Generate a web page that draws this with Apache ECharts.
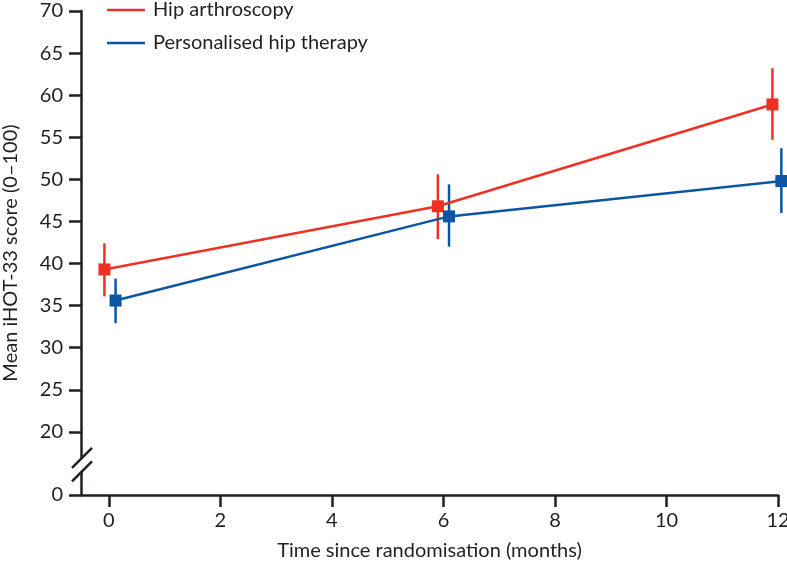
<!DOCTYPE html>
<html>
<head>
<meta charset="utf-8">
<script src="https://cdn.jsdelivr.net/npm/echarts@6/dist/echarts.min.js"></script>
<style>html,body{margin:0;padding:0;background:#fff}#c{width:787px;height:573px}</style>
</head>
<body>
<div id="c"></div>
<script>
// ---- data ----
var seriesNames = ['Hip arthroscopy', 'Personalised hip therapy'];
var arthroX = [-0.08, 5.9, 11.9];
var arthroMean = [39.3, 46.8, 58.9];
var arthroLow = [36.1, 42.9, 54.7];
var arthroHigh = [42.4, 50.6, 63.2];
var therapyX = [0.12, 6.1, 12.06];
var therapyMean = [35.6, 45.6, 49.8];
var therapyLow = [32.9, 42.0, 46.0];
var therapyHigh = [38.2, 49.4, 53.7];
var xTicks = [0, 2, 4, 6, 8, 10, 12];
var yTicks = [12.5, 20, 25, 30, 35, 40, 45, 50, 55, 60, 65, 70]; // 12.5 position shows "0" (broken axis)
var yZeroPos = 12.5;

var RED = '#ee3124', BLUE = '#0b55a3', INK = '#231f20';
var FONT = 'Lato';

function pts(xs, ys) { return xs.map(function (x, i) { return [x, ys[i]]; }); }
function errs(xs, lo, hi) { return xs.map(function (x, i) { return [x, lo[i], hi[i]]; }); }

function errSeries(name, color, data) {
  return {
    type: 'custom', name: name, data: data, z: 3, silent: true,
    itemStyle: { color: color },
    encode: { x: 0, y: [1, 2] },
    renderItem: function (params, api) {
      var a = api.coord([api.value(0), api.value(1)]);
      var b = api.coord([api.value(0), api.value(2)]);
      return { type: 'line', shape: { x1: a[0], y1: a[1], x2: b[0], y2: b[1] },
               style: { stroke: color, lineWidth: 2.5 } };
    }
  };
}

var chart = echarts.init(document.getElementById('c'), null, { renderer: 'canvas' });
chart.setOption({
  animation: false,
  backgroundColor: '#fff',
  color: [RED, BLUE],
  grid: { left: 81, right: 9, top: 11, bottom: 78, containLabel: false, outerBoundsMode: 'none' },
  legend: {
    orient: 'vertical', left: 102, top: -5, itemGap: 13,
    icon: 'rect', itemWidth: 38, itemHeight: 2.5,
    textStyle: { fontFamily: FONT, fontSize: 20, color: INK, padding: [0, 0, 0, 3] },
    data: [
      { name: seriesNames[0], itemStyle: { color: RED } },
      { name: seriesNames[1], itemStyle: { color: BLUE } }
    ]
  },
  xAxis: {
    type: 'value', min: -0.5, max: 12,
    name: 'Time since randomisation (months)', nameLocation: 'middle', nameGap: 46,
    nameTextStyle: { fontFamily: FONT, fontSize: 20, color: INK },
    axisLine: { show: true, onZero: false, lineStyle: { color: INK, width: 2.5 } },
    axisTick: { show: true, length: 12, customValues: xTicks, lineStyle: { color: INK, width: 2.5 } },
    axisLabel: { customValues: xTicks, margin: 16, fontFamily: FONT, fontSize: 20, color: INK },
    splitLine: { show: false }
  },
  yAxis: {
    type: 'value', min: yZeroPos, max: 70,
    name: 'Mean iHOT-33 score (0–100)', nameLocation: 'middle', nameGap: 60,
    nameTextStyle: { fontFamily: FONT, fontSize: 20, color: INK },
    axisLine: { show: true, onZero: false, lineStyle: { color: INK, width: 2.5 } },
    axisTick: { show: true, length: 12, customValues: yTicks, lineStyle: { color: INK, width: 2.5 } },
    axisLabel: { customValues: yTicks, margin: 18, fontFamily: FONT, fontSize: 20, color: INK,
      formatter: function (v) { return v === yZeroPos ? '0' : String(v); } },
    splitLine: { show: false }
  },
  series: [
    { type: 'line', name: seriesNames[0], data: pts(arthroX, arthroMean), z: 4,
      symbol: 'rect', symbolSize: 12, showAllSymbol: true, clip: false,
      lineStyle: { color: RED, width: 2.5 }, itemStyle: { color: RED } },
    { type: 'line', name: seriesNames[1], data: pts(therapyX, therapyMean), z: 4,
      symbol: 'rect', symbolSize: 12, showAllSymbol: true, clip: false,
      lineStyle: { color: BLUE, width: 2.5 }, itemStyle: { color: BLUE } },
    errSeries(seriesNames[0], RED, errs(arthroX, arthroLow, arthroHigh)),
    errSeries(seriesNames[1], BLUE, errs(therapyX, therapyLow, therapyHigh))
  ]
});

// axis break marks (decoration) placed via the axis scale
function addBreak() {
  var x0 = chart.convertToPixel({ xAxisIndex: 0 }, -0.5);
  var yA = chart.convertToPixel({ yAxisIndex: 0 }, 16.9);
  var yB = chart.convertToPixel({ yAxisIndex: 0 }, 15.3);
  chart.setOption({
    graphic: [
      { type: 'rect', shape: { x: x0 - 4, y: yA, width: 8, height: yB - yA }, style: { fill: '#fff' }, z: 100 },
      { type: 'line', shape: { x1: x0 - 9, y1: yA + 10, x2: x0 + 11, y2: yA - 10 }, style: { stroke: INK, lineWidth: 2.5 }, z: 101 },
      { type: 'line', shape: { x1: x0 - 9, y1: yB + 10, x2: x0 + 11, y2: yB - 10 }, style: { stroke: INK, lineWidth: 2.5 }, z: 101 }
    ]
  });
}
addBreak();
</script>
</body>
</html>
